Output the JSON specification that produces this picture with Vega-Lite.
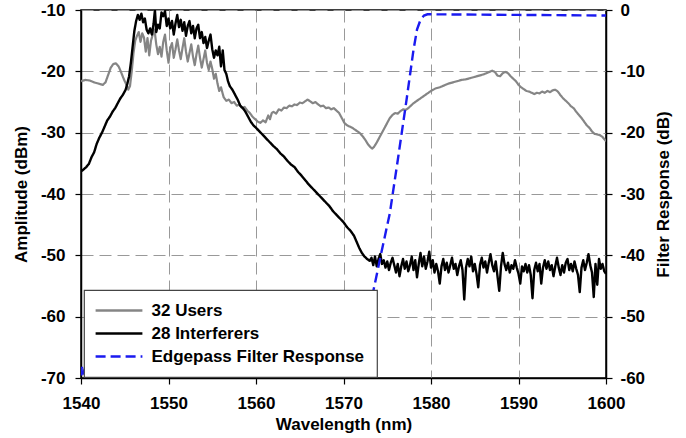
{
  "$schema": "https://vega.github.io/schema/vega-lite/v6.json",
  "width": 525,
  "height": 368,
  "autosize": {"type": "none"},
  "padding": {"left": 81, "top": 10, "right": 80, "bottom": 60},
  "background": "white",
  "datasets": {
    "users": [
      {"w":1540.0,"a":-21.6},{"w":1540.5,"a":-21.4},{"w":1541.0,"a":-21.5},{"w":1541.5,"a":-21.8},{"w":1542.0,"a":-22.0},{"w":1542.5,"a":-22.2},{"w":1542.8,"a":-21.8},{"w":1543.1,"a":-20.6},{"w":1543.4,"a":-19.4},{"w":1543.7,"a":-18.8},{"w":1544.0,"a":-18.7},{"w":1544.3,"a":-19.2},{"w":1544.6,"a":-20.2},{"w":1544.9,"a":-21.3},{"w":1545.2,"a":-22.2},{"w":1545.4,"a":-23.0},{"w":1545.6,"a":-22.4},{"w":1545.8,"a":-20.0},{"w":1546.0,"a":-17.0},{"w":1546.2,"a":-15.0},{"w":1546.4,"a":-14.2},{"w":1546.6,"a":-13.6},{"w":1546.8,"a":-15.2},{"w":1547.0,"a":-13.8},{"w":1547.2,"a":-14.5},{"w":1547.4,"a":-16.8},{"w":1547.6,"a":-14.6},{"w":1547.8,"a":-17.4},{"w":1548.0,"a":-15.0},{"w":1548.2,"a":-14.0},{"w":1548.4,"a":-13.2},{"w":1548.6,"a":-15.6},{"w":1548.8,"a":-17.2},{"w":1549.0,"a":-16.0},{"w":1549.2,"a":-17.6},{"w":1549.4,"a":-15.2},{"w":1549.6,"a":-14.0},{"w":1549.8,"a":-16.6},{"w":1550.0,"a":-18.6},{"w":1550.2,"a":-16.2},{"w":1550.4,"a":-15.4},{"w":1550.6,"a":-17.8},{"w":1550.8,"a":-16.4},{"w":1551.0,"a":-14.8},{"w":1551.2,"a":-16.6},{"w":1551.4,"a":-18.0},{"w":1551.6,"a":-16.2},{"w":1551.8,"a":-14.6},{"w":1552.0,"a":-16.8},{"w":1552.2,"a":-18.4},{"w":1552.4,"a":-17.0},{"w":1552.6,"a":-15.6},{"w":1552.8,"a":-17.6},{"w":1553.0,"a":-19.0},{"w":1553.2,"a":-17.2},{"w":1553.4,"a":-15.8},{"w":1553.6,"a":-17.8},{"w":1553.8,"a":-19.4},{"w":1554.0,"a":-18.0},{"w":1554.2,"a":-16.6},{"w":1554.4,"a":-18.6},{"w":1554.6,"a":-19.8},{"w":1554.8,"a":-18.4},{"w":1555.0,"a":-19.6},{"w":1555.2,"a":-21.2},{"w":1555.4,"a":-20.4},{"w":1555.6,"a":-22.0},{"w":1555.8,"a":-23.2},{"w":1556.0,"a":-22.6},{"w":1556.3,"a":-24.2},{"w":1556.6,"a":-24.8},{"w":1556.9,"a":-24.6},{"w":1557.2,"a":-25.2},{"w":1557.5,"a":-25.0},{"w":1557.8,"a":-25.6},{"w":1558.1,"a":-25.4},{"w":1558.4,"a":-26.0},{"w":1558.7,"a":-25.8},{"w":1559.0,"a":-26.4},{"w":1559.3,"a":-26.8},{"w":1559.6,"a":-27.4},{"w":1559.9,"a":-27.8},{"w":1560.2,"a":-28.2},{"w":1560.5,"a":-28.4},{"w":1560.8,"a":-28.0},{"w":1561.1,"a":-28.3},{"w":1561.4,"a":-27.2},{"w":1561.6,"a":-27.8},{"w":1561.8,"a":-26.8},{"w":1562.0,"a":-26.6},{"w":1562.3,"a":-26.9},{"w":1562.6,"a":-26.2},{"w":1562.9,"a":-26.4},{"w":1563.2,"a":-25.9},{"w":1563.5,"a":-26.0},{"w":1563.8,"a":-25.6},{"w":1564.1,"a":-25.7},{"w":1564.4,"a":-25.4},{"w":1564.7,"a":-25.5},{"w":1565.0,"a":-25.1},{"w":1565.3,"a":-25.2},{"w":1565.6,"a":-24.9},{"w":1565.9,"a":-24.6},{"w":1566.2,"a":-24.9},{"w":1566.5,"a":-25.2},{"w":1566.8,"a":-25.0},{"w":1567.1,"a":-25.4},{"w":1567.4,"a":-25.7},{"w":1567.7,"a":-25.6},{"w":1568.0,"a":-26.0},{"w":1568.3,"a":-25.9},{"w":1568.6,"a":-26.2},{"w":1568.9,"a":-26.0},{"w":1569.2,"a":-26.4},{"w":1569.5,"a":-26.8},{"w":1569.8,"a":-27.6},{"w":1570.1,"a":-28.4},{"w":1570.4,"a":-28.8},{"w":1570.7,"a":-29.0},{"w":1571.0,"a":-29.2},{"w":1571.3,"a":-29.5},{"w":1571.6,"a":-29.8},{"w":1571.9,"a":-30.1},{"w":1572.2,"a":-30.6},{"w":1572.5,"a":-31.2},{"w":1572.8,"a":-31.9},{"w":1573.1,"a":-32.4},{"w":1573.3,"a":-32.6},{"w":1573.5,"a":-32.3},{"w":1573.8,"a":-31.6},{"w":1574.1,"a":-30.8},{"w":1574.4,"a":-30.0},{"w":1574.7,"a":-29.2},{"w":1575.0,"a":-28.4},{"w":1575.3,"a":-27.6},{"w":1575.6,"a":-27.1},{"w":1575.9,"a":-26.8},{"w":1576.2,"a":-26.9},{"w":1576.5,"a":-26.5},{"w":1576.8,"a":-26.2},{"w":1577.1,"a":-26.3},{"w":1577.4,"a":-26.0},{"w":1577.7,"a":-25.6},{"w":1578.0,"a":-25.2},{"w":1578.4,"a":-24.8},{"w":1578.8,"a":-24.4},{"w":1579.2,"a":-24.0},{"w":1579.6,"a":-23.6},{"w":1580.0,"a":-23.2},{"w":1580.5,"a":-22.8},{"w":1581.0,"a":-22.6},{"w":1581.5,"a":-22.3},{"w":1582.0,"a":-22.0},{"w":1582.5,"a":-21.8},{"w":1583.0,"a":-21.6},{"w":1583.5,"a":-21.4},{"w":1584.0,"a":-21.3},{"w":1584.5,"a":-21.1},{"w":1585.0,"a":-20.9},{"w":1585.5,"a":-20.7},{"w":1586.0,"a":-20.5},{"w":1586.5,"a":-20.2},{"w":1587.0,"a":-19.9},{"w":1587.3,"a":-20.1},{"w":1587.6,"a":-20.7},{"w":1587.9,"a":-20.8},{"w":1588.2,"a":-20.3},{"w":1588.5,"a":-20.1},{"w":1588.8,"a":-20.3},{"w":1589.1,"a":-20.8},{"w":1589.4,"a":-21.2},{"w":1589.7,"a":-21.6},{"w":1590.0,"a":-22.2},{"w":1590.3,"a":-22.6},{"w":1590.6,"a":-22.9},{"w":1590.9,"a":-23.2},{"w":1591.2,"a":-23.3},{"w":1591.5,"a":-23.5},{"w":1591.8,"a":-23.7},{"w":1592.1,"a":-23.5},{"w":1592.4,"a":-23.6},{"w":1592.7,"a":-23.3},{"w":1593.0,"a":-23.5},{"w":1593.3,"a":-23.2},{"w":1593.6,"a":-23.4},{"w":1593.9,"a":-23.1},{"w":1594.2,"a":-23.0},{"w":1594.5,"a":-23.3},{"w":1594.8,"a":-23.9},{"w":1595.1,"a":-24.4},{"w":1595.4,"a":-24.8},{"w":1595.7,"a":-25.2},{"w":1596.0,"a":-25.7},{"w":1596.3,"a":-26.0},{"w":1596.6,"a":-26.6},{"w":1596.9,"a":-27.1},{"w":1597.2,"a":-27.6},{"w":1597.5,"a":-28.2},{"w":1597.8,"a":-28.8},{"w":1598.1,"a":-29.2},{"w":1598.4,"a":-29.8},{"w":1598.7,"a":-30.2},{"w":1599.0,"a":-30.3},{"w":1599.3,"a":-30.4},{"w":1599.6,"a":-30.7},{"w":1600.0,"a":-31.4}
    ],
    "interf": [
      {"w":1540.0,"a":-36.3},{"w":1540.3,"a":-36.0},{"w":1540.6,"a":-35.6},{"w":1540.9,"a":-35.1},{"w":1541.2,"a":-34.0},{"w":1541.5,"a":-33.2},{"w":1541.8,"a":-31.8},{"w":1542.1,"a":-30.8},{"w":1542.4,"a":-30.0},{"w":1542.7,"a":-29.0},{"w":1543.0,"a":-28.0},{"w":1543.3,"a":-27.4},{"w":1543.6,"a":-26.6},{"w":1543.9,"a":-26.0},{"w":1544.2,"a":-25.2},{"w":1544.5,"a":-24.4},{"w":1544.8,"a":-23.8},{"w":1545.1,"a":-23.0},{"w":1545.3,"a":-22.0},{"w":1545.5,"a":-20.8},{"w":1545.7,"a":-18.6},{"w":1545.9,"a":-16.0},{"w":1546.1,"a":-13.4},{"w":1546.3,"a":-11.8},{"w":1546.5,"a":-10.8},{"w":1546.7,"a":-11.6},{"w":1546.9,"a":-10.6},{"w":1547.1,"a":-12.0},{"w":1547.3,"a":-11.4},{"w":1547.5,"a":-13.2},{"w":1547.7,"a":-13.8},{"w":1547.9,"a":-13.0},{"w":1548.1,"a":-14.0},{"w":1548.3,"a":-12.2},{"w":1548.45,"a":-10.0},{"w":1548.6,"a":-13.6},{"w":1548.8,"a":-12.4},{"w":1549.0,"a":-13.0},{"w":1549.2,"a":-10.4},{"w":1549.4,"a":-11.0},{"w":1549.6,"a":-10.2},{"w":1549.8,"a":-12.6},{"w":1550.0,"a":-11.4},{"w":1550.2,"a":-13.0},{"w":1550.4,"a":-11.8},{"w":1550.6,"a":-14.0},{"w":1550.8,"a":-12.2},{"w":1551.0,"a":-10.8},{"w":1551.2,"a":-12.8},{"w":1551.4,"a":-11.6},{"w":1551.6,"a":-13.4},{"w":1551.8,"a":-12.0},{"w":1552.0,"a":-14.2},{"w":1552.2,"a":-12.6},{"w":1552.4,"a":-11.8},{"w":1552.6,"a":-13.8},{"w":1552.8,"a":-12.6},{"w":1553.0,"a":-14.6},{"w":1553.2,"a":-13.0},{"w":1553.4,"a":-12.4},{"w":1553.6,"a":-14.6},{"w":1553.8,"a":-13.6},{"w":1554.0,"a":-15.4},{"w":1554.2,"a":-14.4},{"w":1554.4,"a":-16.2},{"w":1554.6,"a":-15.0},{"w":1554.8,"a":-14.0},{"w":1555.0,"a":-16.4},{"w":1555.2,"a":-17.8},{"w":1555.4,"a":-16.6},{"w":1555.6,"a":-17.4},{"w":1555.8,"a":-16.0},{"w":1556.0,"a":-19.2},{"w":1556.2,"a":-16.6},{"w":1556.4,"a":-19.8},{"w":1556.6,"a":-20.4},{"w":1556.8,"a":-21.6},{"w":1557.0,"a":-22.4},{"w":1557.3,"a":-23.0},{"w":1557.6,"a":-23.8},{"w":1557.9,"a":-24.6},{"w":1558.2,"a":-25.6},{"w":1558.5,"a":-26.0},{"w":1558.8,"a":-26.6},{"w":1559.1,"a":-27.4},{"w":1559.4,"a":-28.2},{"w":1559.7,"a":-28.8},{"w":1560.0,"a":-29.2},{"w":1560.4,"a":-29.8},{"w":1560.8,"a":-30.4},{"w":1561.2,"a":-31.0},{"w":1561.6,"a":-31.6},{"w":1562.0,"a":-32.2},{"w":1562.4,"a":-32.7},{"w":1562.8,"a":-33.4},{"w":1563.2,"a":-33.9},{"w":1563.6,"a":-34.6},{"w":1564.0,"a":-35.2},{"w":1564.4,"a":-35.6},{"w":1564.8,"a":-36.4},{"w":1565.2,"a":-37.0},{"w":1565.6,"a":-37.7},{"w":1566.0,"a":-38.4},{"w":1566.4,"a":-39.0},{"w":1566.8,"a":-39.6},{"w":1567.2,"a":-40.2},{"w":1567.6,"a":-40.8},{"w":1568.0,"a":-41.4},{"w":1568.4,"a":-42.0},{"w":1568.8,"a":-42.8},{"w":1569.2,"a":-43.4},{"w":1569.6,"a":-44.0},{"w":1570.0,"a":-44.6},{"w":1570.4,"a":-45.4},{"w":1570.8,"a":-46.0},{"w":1571.2,"a":-46.8},{"w":1571.5,"a":-47.8},{"w":1571.8,"a":-48.8},{"w":1572.1,"a":-49.6},{"w":1572.4,"a":-50.2},{"w":1572.7,"a":-50.6},{"w":1573.0,"a":-50.9},{"w":1573.2,"a":-50.4},
      {"w":1573.4,"a":-51.6},{"w":1573.6,"a":-50.2},{"w":1573.8,"a":-51.8},{"w":1574.0,"a":-50.6},{"w":1574.2,"a":-49.8},{"w":1574.4,"a":-51.4},{"w":1574.6,"a":-50.8},{"w":1574.8,"a":-52.0},{"w":1575.0,"a":-51.0},{"w":1575.2,"a":-52.4},{"w":1575.4,"a":-51.2},{"w":1575.6,"a":-50.4},{"w":1575.8,"a":-51.6},{"w":1576.0,"a":-52.8},{"w":1576.2,"a":-51.4},{"w":1576.4,"a":-53.4},{"w":1576.6,"a":-51.8},{"w":1576.8,"a":-50.6},{"w":1577.0,"a":-52.2},{"w":1577.2,"a":-51.0},{"w":1577.4,"a":-52.6},{"w":1577.6,"a":-51.6},{"w":1577.8,"a":-50.2},{"w":1578.0,"a":-52.4},{"w":1578.2,"a":-50.8},{"w":1578.4,"a":-53.6},{"w":1578.6,"a":-51.4},{"w":1578.8,"a":-49.6},{"w":1579.0,"a":-51.8},{"w":1579.2,"a":-50.2},{"w":1579.4,"a":-52.2},{"w":1579.6,"a":-51.0},{"w":1579.8,"a":-49.4},{"w":1580.0,"a":-52.0},{"w":1580.2,"a":-50.8},{"w":1580.4,"a":-52.8},{"w":1580.6,"a":-51.4},{"w":1580.8,"a":-52.6},{"w":1581.0,"a":-54.6},{"w":1581.2,"a":-51.8},{"w":1581.4,"a":-50.6},{"w":1581.6,"a":-52.4},{"w":1581.8,"a":-51.2},{"w":1582.0,"a":-52.8},{"w":1582.2,"a":-51.6},{"w":1582.4,"a":-50.4},{"w":1582.6,"a":-52.2},{"w":1582.8,"a":-51.4},{"w":1583.0,"a":-53.2},{"w":1583.2,"a":-51.8},{"w":1583.4,"a":-50.8},{"w":1583.6,"a":-52.4},{"w":1583.8,"a":-57.2},{"w":1584.0,"a":-52.0},{"w":1584.2,"a":-50.6},{"w":1584.4,"a":-51.8},{"w":1584.6,"a":-50.2},{"w":1584.8,"a":-52.6},{"w":1585.0,"a":-51.4},{"w":1585.2,"a":-53.0},{"w":1585.4,"a":-55.2},{"w":1585.6,"a":-51.6},{"w":1585.8,"a":-50.4},{"w":1586.0,"a":-52.0},{"w":1586.2,"a":-51.0},{"w":1586.4,"a":-52.8},{"w":1586.6,"a":-51.2},{"w":1586.8,"a":-49.8},{"w":1587.0,"a":-51.6},{"w":1587.2,"a":-52.6},{"w":1587.4,"a":-51.0},{"w":1587.6,"a":-53.4},{"w":1587.8,"a":-55.8},{"w":1588.0,"a":-51.8},{"w":1588.2,"a":-49.6},{"w":1588.4,"a":-51.4},{"w":1588.6,"a":-52.4},{"w":1588.8,"a":-51.2},{"w":1589.0,"a":-52.8},{"w":1589.2,"a":-51.6},{"w":1589.4,"a":-52.2},{"w":1589.6,"a":-50.8},{"w":1589.8,"a":-52.0},{"w":1590.0,"a":-53.0},{"w":1590.2,"a":-54.6},{"w":1590.4,"a":-51.8},{"w":1590.6,"a":-52.6},{"w":1590.8,"a":-51.4},{"w":1591.0,"a":-52.8},{"w":1591.2,"a":-51.6},{"w":1591.4,"a":-53.2},{"w":1591.6,"a":-57.0},{"w":1591.8,"a":-52.4},{"w":1592.0,"a":-51.2},{"w":1592.2,"a":-52.6},{"w":1592.4,"a":-51.4},{"w":1592.6,"a":-54.6},{"w":1592.8,"a":-52.0},{"w":1593.0,"a":-50.8},{"w":1593.2,"a":-52.2},{"w":1593.4,"a":-51.0},{"w":1593.6,"a":-52.4},{"w":1593.8,"a":-51.6},{"w":1594.0,"a":-53.4},{"w":1594.2,"a":-51.8},{"w":1594.4,"a":-50.4},{"w":1594.6,"a":-52.0},{"w":1594.8,"a":-53.2},{"w":1595.0,"a":-51.6},{"w":1595.2,"a":-52.8},{"w":1595.4,"a":-51.2},{"w":1595.6,"a":-50.6},{"w":1595.8,"a":-52.4},{"w":1596.0,"a":-51.4},{"w":1596.2,"a":-52.6},{"w":1596.4,"a":-51.0},{"w":1596.6,"a":-52.2},{"w":1596.8,"a":-53.2},{"w":1597.0,"a":-56.0},{"w":1597.2,"a":-52.0},{"w":1597.4,"a":-50.8},{"w":1597.6,"a":-52.4},{"w":1597.8,"a":-51.2},{"w":1598.0,"a":-49.8},{"w":1598.2,"a":-51.6},{"w":1598.4,"a":-52.8},{"w":1598.6,"a":-56.8},{"w":1598.8,"a":-51.4},{"w":1599.0,"a":-54.8},{"w":1599.2,"a":-50.6},{"w":1599.4,"a":-52.2},{"w":1599.6,"a":-51.4},{"w":1599.8,"a":-52.6},{"w":1600.0,"a":-53.0}
    ],
    "filter": [
      {"w":1540.0,"f":-59.6},{"w":1540.1,"f":-58.2},{"w":1540.2,"f":-59.4},{"w":1540.4,"f":-58.6},{"w":1540.6,"f":-59.5},{"w":1541.0,"f":-59.6},{"w":1543.0,"f":-59.4},{"w":1545.0,"f":-59.6},{"w":1548.0,"f":-59.5},{"w":1551.0,"f":-59.6},{"w":1555.0,"f":-59.5},{"w":1560.0,"f":-59.6},{"w":1565.0,"f":-59.6},{"w":1570.0,"f":-59.6},{"w":1571.3,"f":-59.4},{"w":1572.0,"f":-54.8},{"w":1573.0,"f":-48.6},{"w":1573.5,"f":-45.2},{"w":1574.2,"f":-40.4},{"w":1575.3,"f":-33.1},{"w":1576.2,"f":-24.5},{"w":1577.2,"f":-14.7},{"w":1578.0,"f":-6.5},{"w":1578.4,"f":-3.2},{"w":1578.8,"f":-1.6},{"w":1579.2,"f":-0.9},{"w":1579.6,"f":-0.7},{"w":1590.0,"f":-0.8},{"w":1600.0,"f":-0.9}
    ]
  },
  "layer": [
    {
      "encoding": {
        "x": {"field": "w", "type": "quantitative", "scale": {"domain": [1540, 1600], "nice": false, "zero": false},
              "axis": {"title": "Wavelength (nm)", "values": [1540, 1550, 1560, 1570, 1580, 1590, 1600], "labelExpr": "'' + datum.value", "labelFlush": false, "labelOverlap": false, "grid": true, "labelPadding": 11, "titlePadding": 5}},
        "y": {"field": "a", "type": "quantitative", "scale": {"domain": [-70, -10], "nice": false, "zero": false},
              "axis": {"title": "Amplitude (dBm)", "orient": "left", "values": [-70, -60, -50, -40, -30, -20, -10], "labelExpr": "'' + datum.value", "grid": true, "labelPadding": 10, "titlePadding": 10}}
      },
      "layer": [
        {
          "data": {"name": "users"},
          "mark": {"type": "line", "strokeWidth": 2.2, "strokeJoin": "round", "clip": true},
          "encoding": {
            "color": {"datum": "32 Users", "type": "nominal", "scale": {"domain": ["32 Users", "28 Interferers", "Edgepass Filter Response"], "range": ["#858585", "#000000", "#1a1af0"]}, "legend": {"title": null}},
            "strokeDash": {"datum": "32 Users", "type": "nominal", "scale": {"domain": ["32 Users", "28 Interferers", "Edgepass Filter Response"], "range": [[1, 0], [1, 0], [10, 5]]}, "legend": {"title": null}}
          }
        },
        {
          "data": {"name": "interf"},
          "mark": {"type": "line", "strokeWidth": 2.4, "strokeJoin": "round", "clip": true},
          "encoding": {
            "color": {"datum": "28 Interferers", "type": "nominal", "scale": {"domain": ["32 Users", "28 Interferers", "Edgepass Filter Response"], "range": ["#858585", "#000000", "#1a1af0"]}, "legend": {"title": null}},
            "strokeDash": {"datum": "28 Interferers", "type": "nominal", "scale": {"domain": ["32 Users", "28 Interferers", "Edgepass Filter Response"], "range": [[1, 0], [1, 0], [10, 5]]}, "legend": {"title": null}}
          }
        }
      ]
    },
    {
      "data": {"name": "filter"},
      "mark": {"type": "line", "strokeWidth": 2.4, "clip": true},
      "encoding": {
        "x": {"field": "w", "type": "quantitative", "scale": {"domain": [1540, 1600], "nice": false, "zero": false}},
        "y": {"field": "f", "type": "quantitative", "scale": {"domain": [-60, 0], "nice": false, "zero": false},
              "axis": {"title": "Filter Response (dB)", "orient": "right", "values": [-60, -50, -40, -30, -20, -10, 0], "labelExpr": "'' + datum.value", "grid": false, "labelPadding": 8, "titleAngle": 270, "titleX": 57, "titleY": 184, "titleAlign": "center", "titleBaseline": "middle"}},
        "color": {"datum": "Edgepass Filter Response", "type": "nominal", "scale": {"domain": ["32 Users", "28 Interferers", "Edgepass Filter Response"], "range": ["#858585", "#000000", "#1a1af0"]}, "legend": {"title": null}},
        "strokeDash": {"datum": "Edgepass Filter Response", "type": "nominal", "scale": {"domain": ["32 Users", "28 Interferers", "Edgepass Filter Response"], "range": [[1, 0], [1, 0], [10, 5]]}, "legend": {"title": null}}
      }
    }
  ],
  "resolve": {"scale": {"y": "independent"}},
  "config": {
    "view": {"stroke": "#000000", "strokeWidth": 1.5},
    "axis": {
      "labelFont": "Liberation Sans", "labelFontWeight": "bold", "labelFontSize": 17, "labelColor": "#000000",
      "titleFont": "Liberation Sans", "titleFontWeight": "bold", "titleFontSize": 17, "titleColor": "#000000",
      "domainColor": "#000000", "domainWidth": 1.5, "tickColor": "#000000", "tickWidth": 1.2, "tickSize": 6,
      "gridColor": "#999999", "gridDash": [12, 6], "gridWidth": 1
    },
    "legend": {
      "orient": "none", "legendX": 3, "legendY": 280,
      "fillColor": "#ffffff", "strokeColor": "#444444", "strokeWidth": 1.2, "padding": 12,
      "labelFont": "Liberation Sans", "labelFontWeight": "bold", "labelFontSize": 17, "labelColor": "#000000",
      "labelLimit": 400, "labelOffset": 24,
      "symbolType": "M-3.9,0H3.9", "symbolSize": 144, "symbolOffset": 14.5, "symbolStrokeWidth": 2.5, "rowPadding": 5
    }
  }
}
